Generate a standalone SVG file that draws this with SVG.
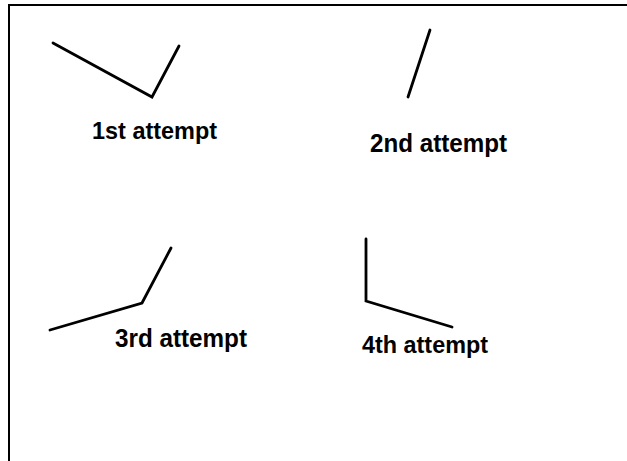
<svg xmlns="http://www.w3.org/2000/svg" width="627" height="461" viewBox="0 0 627 461">
<style>
.frame{stroke:#000;stroke-width:2;fill:none}
.stroke{stroke:#000;stroke-width:2.8;fill:none;stroke-linecap:round;stroke-linejoin:miter}
.lbl{font-family:"Liberation Sans",Arial,sans-serif;font-weight:bold;fill:#000}
</style>
<rect width="627" height="461" fill="#fff"/>
<g id="frame">
<line class="frame" x1="9" y1="5" x2="627" y2="5"/>
<line class="frame" x1="9" y1="4" x2="9" y2="461"/>
</g>
<g id="attempt1">
<polyline class="stroke" points="53,43 152,97 179,46"/>
<text class="lbl" x="92" y="139" font-size="24" textLength="125" lengthAdjust="spacingAndGlyphs">1st attempt</text>
</g>
<g id="attempt2">
<polyline class="stroke" points="430,30 408,97"/>
<text class="lbl" x="370" y="152" font-size="26" textLength="137" lengthAdjust="spacingAndGlyphs">2nd attempt</text>
</g>
<g id="attempt3">
<polyline class="stroke" points="50,330 142,303 171,248"/>
<text class="lbl" x="115" y="347" font-size="25" textLength="132" lengthAdjust="spacingAndGlyphs">3rd attempt</text>
</g>
<g id="attempt4">
<polyline class="stroke" points="366,239 366,301 452,327"/>
<text class="lbl" x="362" y="353" font-size="24" textLength="126" lengthAdjust="spacingAndGlyphs">4th attempt</text>
</g>
</svg>
